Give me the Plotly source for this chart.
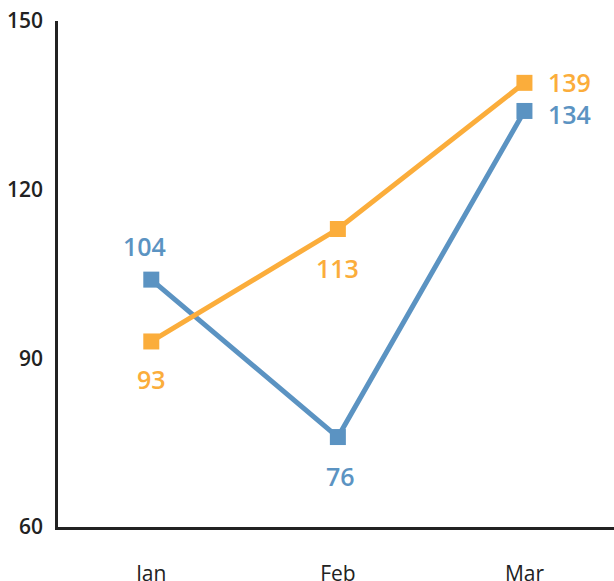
import plotly.graph_objects as go

months = ["Jan", "Feb", "Mar"]
series_blue = [104, 76, 134]
series_orange = [93, 113, 139]
y_ticks = [60, 90, 120, 150]

BLUE = "#5b93c2"
ORANGE = "#fbad3b"
FONT = "Open Sans"

fig = go.Figure()
xs = list(range(len(months)))
for vals, col in [(series_blue, BLUE), (series_orange, ORANGE)]:
    fig.add_trace(go.Scatter(
        x=xs, y=vals, mode="lines+markers",
        line=dict(color=col, width=5),
        marker=dict(symbol="square", size=16, color=col),
        hoverinfo="skip", showlegend=False,
    ))

# label placement: (xshift, yshift) per point
blue_off = [(-7, 34), (3, -39), (45, -3)]
orange_off = [(0, -38), (0, -39), (45, 1)]
for vals, col, offs in [(series_blue, BLUE, blue_off), (series_orange, ORANGE, orange_off)]:
    for i, v in enumerate(vals):
        fig.add_annotation(
            x=xs[i], y=v, text=str(v), showarrow=False,
            xshift=offs[i][0], yshift=offs[i][1],
            font=dict(family=FONT, size=25, color=col, weight=600),
        )

fig.update_layout(
    width=614, height=581,
    margin=dict(l=58, r=0, t=21, b=54, autoexpand=False),
    paper_bgcolor="white", plot_bgcolor="white",
    font=dict(family=FONT),
)
fig.update_xaxes(
    range=[-0.5, 2.48], tickvals=xs, ticktext=months,
    showgrid=False, zeroline=False,
    showline=True, linecolor="#222", linewidth=2.5,
    ticks="", ticklabelstandoff=26,
    tickfont=dict(family=FONT, size=21, color="#222"),
)
fig.update_yaxes(
    range=[60, 150], tickvals=y_ticks,
    showgrid=False, zeroline=False,
    showline=True, linecolor="#222", linewidth=2.5,
    ticks="", ticklabelstandoff=8,
    tickfont=dict(family=FONT, size=21, color="#222", weight=600),
)

fig.write_html("out.html", config={"displayModeBar": False},
               post_script="document.body.style.margin='0';")
